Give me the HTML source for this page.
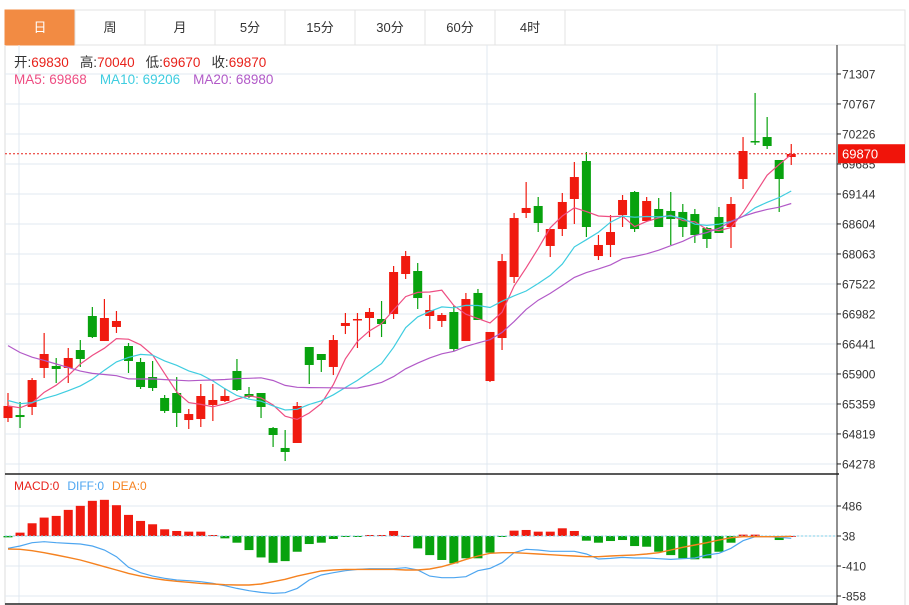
<!DOCTYPE html>
<html><head><meta charset="utf-8"><style>
html,body{margin:0;padding:0;background:#fff;width:909px;height:605px;overflow:hidden;font-family:"Liberation Sans","Noto Sans CJK SC",sans-serif}
svg{display:block}
</style></head><body>
<svg id="chart" width="909" height="605" xmlns="http://www.w3.org/2000/svg" font-family="Liberation Sans, Noto Sans CJK SC, sans-serif">
<g id="tabs"></g>
<g id="grid"></g>
<g id="candles"></g>
<g id="mas"></g>
<g id="macd"></g>
<g id="axes"></g>
<g id="legend">
<text x="14" y="67" font-size="13.5" fill="#333">开:<tspan fill="#e8221b">69830</tspan><tspan dx="11">高:</tspan><tspan fill="#e8221b">70040</tspan><tspan dx="11">低:</tspan><tspan fill="#e8221b">69670</tspan><tspan dx="11">收:</tspan><tspan fill="#e8221b">69870</tspan></text>
<text x="14" y="84" font-size="13.5"><tspan fill="#ee4e83">MA5: 69868</tspan><tspan fill="#3fcde0" dx="13">MA10: 69206</tspan><tspan fill="#b25ac8" dx="13">MA20: 68980</tspan></text>
<text x="14" y="490" font-size="12"><tspan fill="#e8221b">MACD:0</tspan><tspan fill="#4ea6f0" dx="8">DIFF:0</tspan><tspan fill="#f58220" dx="8">DEA:0</tspan></text>
</g>
</svg>
<script>
const tabLabels=["日","周","月","5分","15分","30分","60分","4时"];
const opens=[65106,65160,65305,66008,66044,66008,66332,66945,66494,66747,66404,66116,65845,65467,65557,65070,65088,65341,65413,65954,65539,65557,64926,64566,64656,66386,66260,66026,66765,66873,66909,66891,66981,67702,67756,66945,66855,67017,66494,67360,65773,66548,67648,68802,68928,68207,68513,69054,69739,68026,68225,68765,69180,68657,68874,68838,68820,68783,68531,68729,68549,69414,70099,70171,69757,69811];
const highs=[65557,65395,65827,66639,66188,66368,66512,67107,67251,67035,66458,66188,66134,65521,65845,65269,65719,65719,65629,66170,65665,65557,64944,64890,65395,66386,66260,66602,66999,66999,67089,67215,67846,68117,67900,67323,66999,67125,67360,67432,66657,68062,68802,69360,69090,68513,69162,69721,69901,68405,68765,69126,69198,69090,69072,69180,68964,68874,68549,68910,69090,70171,70965,70532,69757,70045];
const lows=[65034,64926,65160,65827,65737,65737,66026,66548,66494,66639,65918,65629,65593,65197,64944,64908,64944,65052,65395,65593,65467,65106,64584,64331,64656,65719,65936,65881,66620,66368,66566,66566,66891,67612,67071,66711,66747,66314,66494,66873,65755,66332,67540,68711,68459,68008,68387,68603,68369,67954,68008,68549,68459,68657,68549,68225,68369,68261,68171,68441,68171,69234,70027,69955,68820,69667];
const closes=[65323,65124,65791,66260,65990,66188,66170,66566,66909,66855,66134,65665,65647,65233,65197,65178,65503,65431,65503,65611,65485,65305,64800,64494,65323,66062,66152,66512,66819,66891,67017,66801,67738,68026,67269,67053,66963,66350,67251,66873,66657,67936,68711,68892,68621,68513,69000,69450,68549,68225,68459,69036,68513,69018,68549,68693,68549,68405,68333,68441,68964,69919,70081,70009,69414,69865];
const priorCloses=[67600,67500,67400,67300,67400,67500,67400,67300,67300,67300,65700,65600,65500,65400,65400,65300,65350,65300,65350];
const priceTicks=[71307,70767,70226,69685,69144,68604,68063,67522,66982,66441,65900,65359,64819,64278];
const lastPrice=69870;
const histValues=[-20,50,190,275,300,390,450,525,540,460,315,225,175,100,75,65,65,15,-35,-100,-210,-320,-400,-375,-235,-120,-100,-45,-10,-3,15,15,75,0,-185,-285,-358,-408,-333,-333,-249,-10,80,90,65,65,115,75,-70,-100,-75,-60,-150,-160,-235,-285,-333,-348,-333,-235,-100,20,20,0,-60,0];
const diffValues=[-184,-149,-100,-85,-100,-110,-120,-149,-209,-309,-468,-548,-598,-632,-657,-667,-682,-707,-742,-782,-817,-842,-857,-847,-782,-657,-583,-548,-518,-498,-488,-488,-488,-473,-508,-598,-623,-623,-608,-518,-483,-398,-249,-199,-209,-229,-229,-229,-269,-344,-334,-319,-329,-329,-339,-349,-339,-329,-284,-259,-184,-70,-10,-10,-20,-35];
const deaValues=[-194,-199,-219,-249,-284,-319,-359,-408,-458,-508,-558,-598,-632,-657,-677,-692,-707,-717,-727,-732,-732,-717,-682,-647,-598,-558,-523,-508,-498,-498,-498,-498,-498,-508,-508,-493,-458,-408,-349,-299,-259,-249,-249,-259,-269,-279,-289,-299,-309,-309,-299,-289,-284,-269,-249,-209,-169,-134,-100,-60,-25,-10,-10,-10,-10,-5];
const macdTicks=[486,38,-410,-858];

const NS="http://www.w3.org/2000/svg";
function mk(tag,attrs,parent){const e=document.createElementNS(NS,tag);for(const k in attrs)e.setAttribute(k,attrs[k]);parent.appendChild(e);return e;}
const RED="#f01a0f",GREEN="#08a20e";
const X0=8,DX=12.05,PLOT_R=837;
const xAt=i=>X0+i*DX;
const yP=p=>74+(71307-p)/18.025;
const yM=v=>536-v/14.93;

const tabs=document.getElementById('tabs');
let bg=mk('rect',{x:5,y:10,width:900,height:35,fill:"#fff",stroke:"#e3e3e3"},tabs);


tabLabels.forEach((t,i)=>{
  const g=mk('g',{},tabs);
  
  
  mk('rect',{x:5+i*70,y:10,width:70,height:35,fill:i===0?"#f28b43":"#fff",stroke:i===0?"#f28b43":"#e3e3e3"},g);
  const tx=mk('text',{x:40+i*70,y:32,"text-anchor":"middle","font-size":13,fill:i===0?"#fff":"#333"},g);
  tx.textContent=t;
});

const grid=document.getElementById('grid');
mk('line',{x1:5,y1:45,x2:5,y2:605,stroke:"#ddd"},grid);
mk('line',{x1:905,y1:45,x2:905,y2:605,stroke:"#ddd"},grid);
priceTicks.forEach(v=>{mk('line',{x1:5,x2:PLOT_R,y1:yP(v),y2:yP(v),stroke:"#e1e9f1"},grid);});
macdTicks.forEach(v=>{mk('line',{x1:5,x2:PLOT_R,y1:yM(v-38),y2:yM(v-38),stroke:"#e1e9f1"},grid);});
[19,487,717].forEach(x=>{mk('line',{x1:x,x2:x,y1:45,y2:604,stroke:"#e1e9f1"},grid);});

const cg=document.getElementById('candles');
opens.forEach((o,i)=>{
  const c=closes[i],up=c>=o,col=up?RED:GREEN,x=xAt(i);
  const g=mk('g',{},cg);
  
  
  mk('line',{x1:x,x2:x,y1:yP(highs[i]),y2:yP(lows[i]),stroke:col,"stroke-width":1.2},g);
  const t=yP(Math.max(o,c)),b=yP(Math.min(o,c));
  mk('rect',{x:x-4.5,y:t,width:9,height:Math.max(1.5,b-t),fill:col},g);
});

const all=priorCloses.concat(closes),P=priorCloses.length;
function ma(n){return closes.map((_,i)=>{let s=0,k=0;for(let j=P+i;j>P+i-n&&j>=0;j--){s+=all[j];k++;}return s/k;});}
const mg=document.getElementById('mas');
[[5,"#ee4e83"],[10,"#3fcde0"],[20,"#b25ac8"]].forEach(([n,col])=>{
  const v=ma(n);
  const p=mk('polyline',{points:v.map((m,i)=>xAt(i)+","+yP(m).toFixed(1)).join(" "),fill:"none",stroke:col,"stroke-width":1.2},mg);
  
  
});

const ax=document.getElementById('axes');
const pl=mk('line',{x1:5,x2:PLOT_R,y1:yP(lastPrice),y2:yP(lastPrice),stroke:"#e8221b","stroke-dasharray":"2,2"},ax);



const mcg=document.getElementById('macd');
histValues.forEach((h,i)=>{
  const y0=yM(0),y1=yM(h);
  const r=mk('rect',{x:xAt(i)-4.5,y:Math.min(y0,y1),width:9,height:Math.max(1,Math.abs(y1-y0)),fill:h>=0?RED:GREEN},mcg);
  
  
});
mk('line',{x1:5,x2:PLOT_R,y1:yM(0),y2:yM(0),stroke:"#7fd0e8","stroke-dasharray":"2,2"},mcg);
const dl=mk('polyline',{points:diffValues.map((v,i)=>xAt(i)+","+yM(v).toFixed(1)).join(" "),fill:"none",stroke:"#4ea6f0","stroke-width":1.2},mcg);


const el=mk('polyline',{points:deaValues.map((v,i)=>xAt(i)+","+yM(v).toFixed(1)).join(" "),fill:"none",stroke:"#f58220","stroke-width":1.4},mcg);



mk('line',{x1:PLOT_R,x2:PLOT_R,y1:45,y2:605,stroke:"#222"},ax);
mk('line',{x1:5,x2:PLOT_R+2,y1:474,y2:474,stroke:"#222","stroke-width":1.5},ax);
mk('line',{x1:5,x2:PLOT_R,y1:604,y2:604,stroke:"#222","stroke-width":1.5},ax);
priceTicks.forEach(v=>{
  mk('line',{x1:PLOT_R,x2:PLOT_R+4,y1:yP(v),y2:yP(v),stroke:"#222"},ax);
  const t=mk('text',{x:PLOT_R+5,y:yP(v)+4.5,"font-size":12,fill:"#333"},ax);
  
  
  t.textContent=v;
});
macdTicks.forEach(v=>{
  const y=yM(v-38);
  mk('line',{x1:PLOT_R,x2:PLOT_R+4,y1:y,y2:y,stroke:"#222"},ax);
  const t=mk('text',{x:PLOT_R+5,y:y+4.5,"font-size":12,fill:"#333"},ax);
  
  
  t.textContent=v;
});
const tag=mk('rect',{x:PLOT_R+1,y:yP(lastPrice)-9.5,width:67,height:19,fill:"#f0140a"},ax);


const tt=mk('text',{x:PLOT_R+5,y:yP(lastPrice)+5,"font-size":13,fill:"#fff"},ax);


tt.textContent=lastPrice;
</script>
</body></html>
